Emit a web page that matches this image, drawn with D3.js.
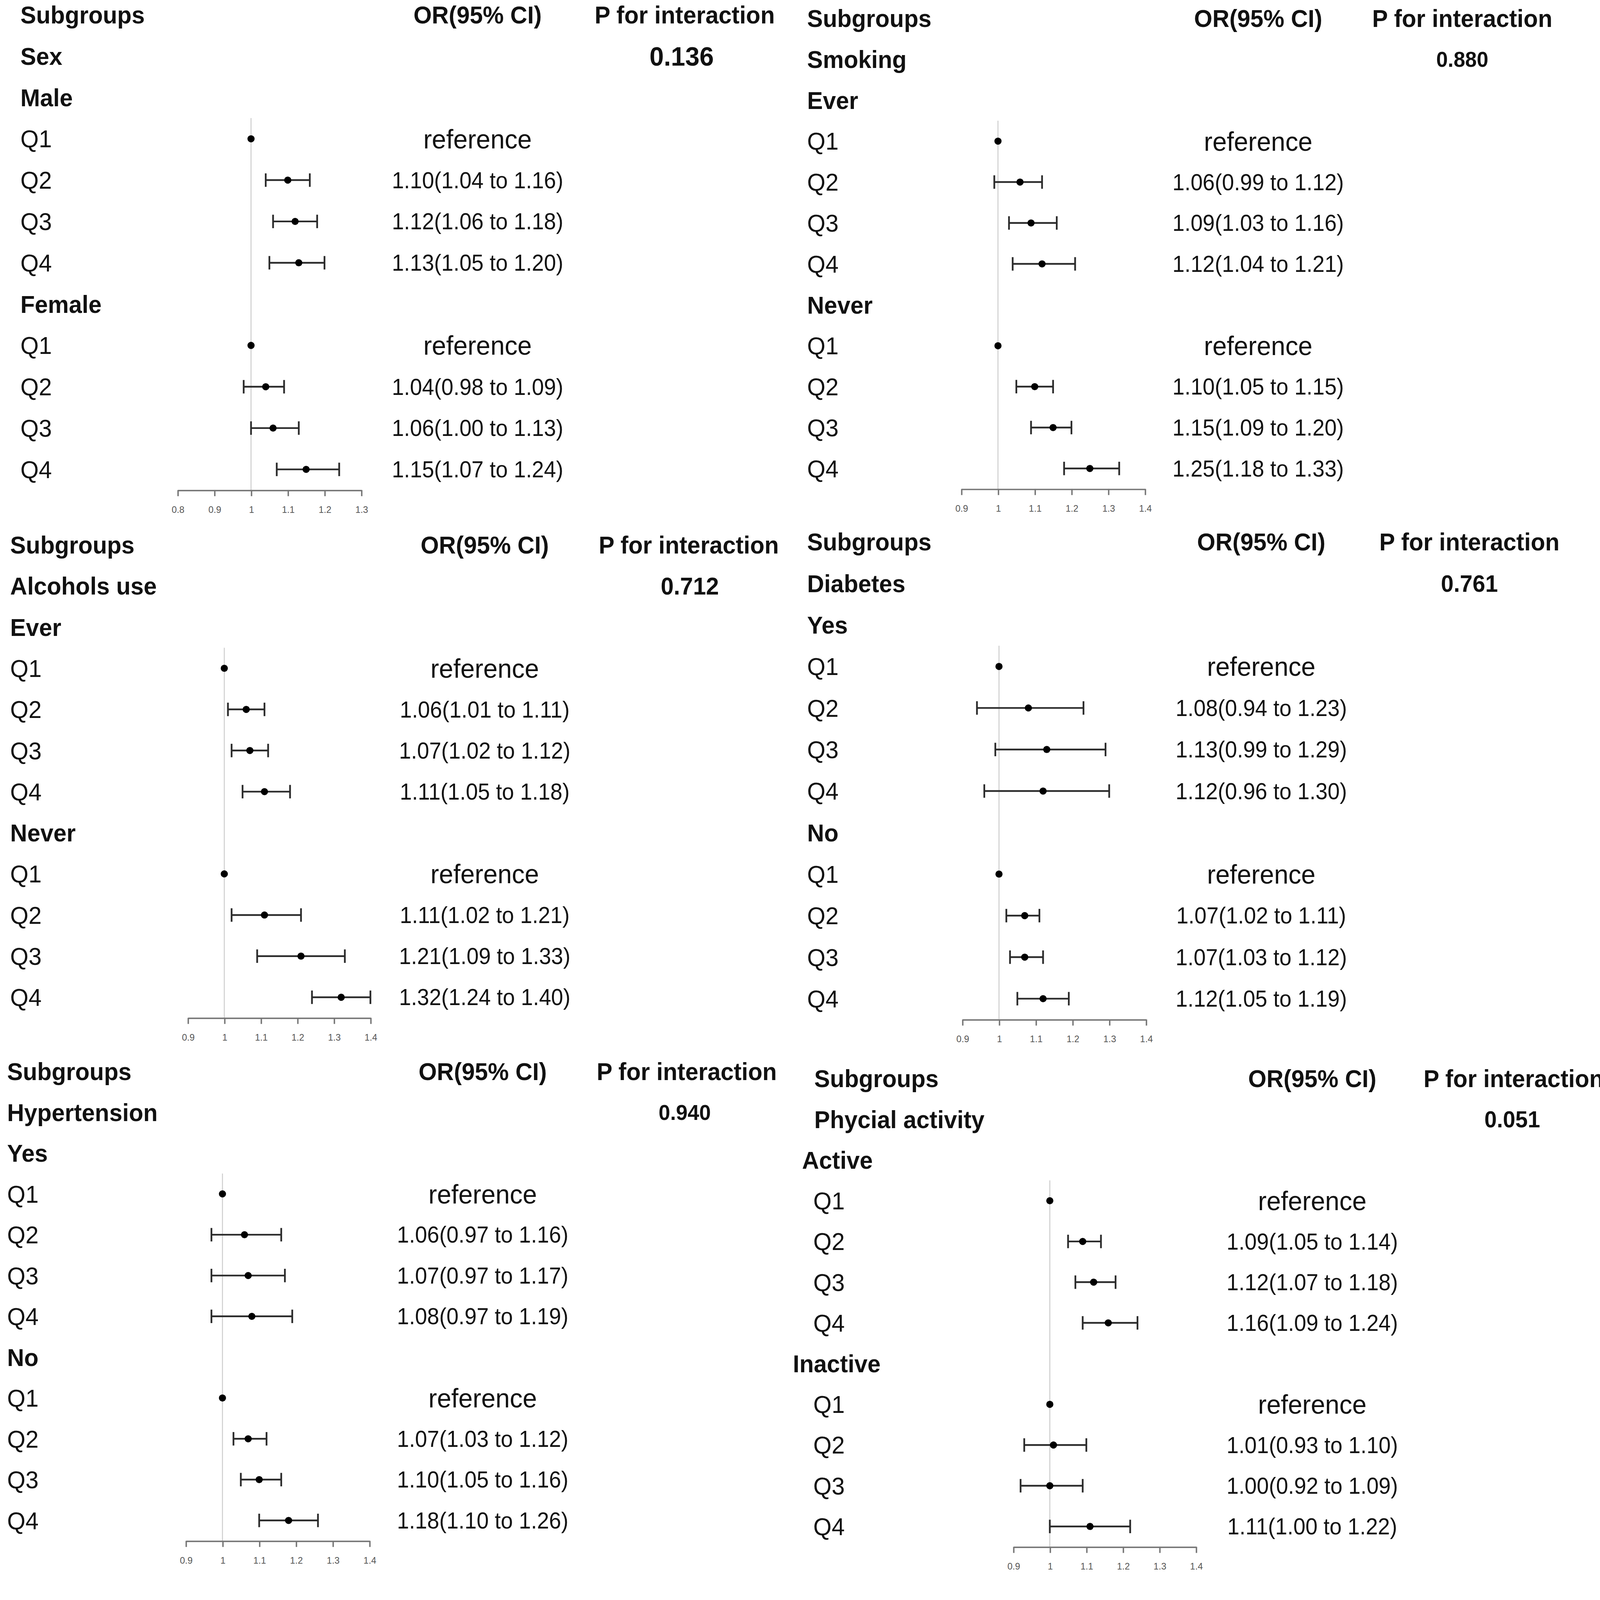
<!DOCTYPE html>
<html lang="en">
<head>
    <meta charset="UTF-8">
    <title>Subgroup forest plots</title>
    <script src="https://d3js.org/d3.v7.min.js"></script>
    <style>
        html, body { margin: 0; padding: 0; background: #fff; }
        svg { display: block; font-family: "Liberation Sans", Arial, Helvetica, sans-serif; }
        .ref-line { stroke: #cfcfcf; stroke-width: 1; }
        .ci { stroke: #2b2b2b; stroke-width: 1.7; fill: none; }
        .dot { fill: #000; }
        .axis path, .axis line { stroke: #777; stroke-width: 1.4; }
        .axis text { font-size: 9px; fill: #555; font-family: "Liberation Sans", Arial, sans-serif; }
    </style>
</head>
<body>
    <svg id="chart"></svg>
    <script>
        // ---- data ----
        const headerLabels = ["Subgroups", "OR(95% CI)", "P for interaction"];
        const variables = ["Sex", "Smoking", "Alcohols use", "Diabetes", "Hypertension", "Phycial activity"];
        const pInteraction = ["0.136", "0.880", "0.712", "0.761", "0.940", "0.051"];
        const subgroupNames = [
            ["Male", "Female"],
            ["Ever", "Never"],
            ["Ever", "Never"],
            ["Yes", "No"],
            ["Yes", "No"],
            ["Active", "Inactive"]
        ];
        const quartiles = ["Q1", "Q2", "Q3", "Q4"];

        // OR estimates per panel -> subgroup -> quartile (Q1 is the reference)
        const orEstimate = [
            [[1, 1.10, 1.12, 1.13], [1, 1.04, 1.06, 1.15]],
            [[1, 1.06, 1.09, 1.12], [1, 1.10, 1.15, 1.25]],
            [[1, 1.06, 1.07, 1.11], [1, 1.11, 1.21, 1.32]],
            [[1, 1.08, 1.13, 1.12], [1, 1.07, 1.07, 1.12]],
            [[1, 1.06, 1.07, 1.08], [1, 1.07, 1.10, 1.18]],
            [[1, 1.09, 1.12, 1.16], [1, 1.01, 1.00, 1.11]]
        ];
        const orLower = [
            [[null, 1.04, 1.06, 1.05], [null, 0.98, 1.00, 1.07]],
            [[null, 0.99, 1.03, 1.04], [null, 1.05, 1.09, 1.18]],
            [[null, 1.01, 1.02, 1.05], [null, 1.02, 1.09, 1.24]],
            [[null, 0.94, 0.99, 0.96], [null, 1.02, 1.03, 1.05]],
            [[null, 0.97, 0.97, 0.97], [null, 1.03, 1.05, 1.10]],
            [[null, 1.05, 1.07, 1.09], [null, 0.93, 0.92, 1.00]]
        ];
        const orUpper = [
            [[null, 1.16, 1.18, 1.20], [null, 1.09, 1.13, 1.24]],
            [[null, 1.12, 1.16, 1.21], [null, 1.15, 1.20, 1.33]],
            [[null, 1.11, 1.12, 1.18], [null, 1.21, 1.33, 1.40]],
            [[null, 1.23, 1.29, 1.30], [null, 1.11, 1.12, 1.19]],
            [[null, 1.16, 1.17, 1.19], [null, 1.12, 1.16, 1.26]],
            [[null, 1.14, 1.18, 1.24], [null, 1.10, 1.09, 1.22]]
        ];
        const axisTicks = [
            [0.8, 0.9, 1, 1.1, 1.2, 1.3],
            [0.9, 1, 1.1, 1.2, 1.3, 1.4],
            [0.9, 1, 1.1, 1.2, 1.3, 1.4],
            [0.9, 1, 1.1, 1.2, 1.3, 1.4],
            [0.9, 1, 1.1, 1.2, 1.3, 1.4],
            [0.9, 1, 1.1, 1.2, 1.3, 1.4]
        ];

        // ---- layout (drawing units, scaled up to the page by the viewBox) ----
        const width = 4211, height = 4144;
        const vbW = 1612, vbH = vbW * height / width;
        const panels = [
            { textX: 20,  groupX: [20, 20],   top: 14.5, step: 40.5, x0: 174, x1: 354,  orX: 468,  pX: 671,  pAnchor: "middle", pValX: 668,  pSize: 26.5 },
            { textX: 791, groupX: [791, 791], top: 18,   step: 40.1, x0: 942, x1: 1122, orX: 1233, pX: 1433, pAnchor: "middle", pValX: 1433, pSize: 21.5 },
            { textX: 10,  groupX: [10, 10],   top: 534,  step: 40.3, x0: 184, x1: 363,  orX: 475,  pX: 675,  pAnchor: "middle", pValX: 676,  pSize: 24 },
            { textX: 791, groupX: [791, 791], top: 531,  step: 40.7, x0: 943, x1: 1123, orX: 1236, pX: 1440, pAnchor: "middle", pValX: 1440, pSize: 23.5 },
            { textX: 7,   groupX: [7, 7],     top: 1050, step: 40,   x0: 182, x1: 362,  orX: 473,  pX: 673,  pAnchor: "middle", pValX: 671,  pSize: 21.5 },
            { textX: 797, groupX: [786, 777], top: 1057, step: 39.9, x0: 993, x1: 1172, orX: 1286, pX: 1395, pAnchor: "start",  pValX: 1482, pSize: 23 }
        ];

        const svg = d3.select("#chart")
            .attr("width", width)
            .attr("height", height)
            .attr("viewBox", `0 0 ${vbW} ${vbH}`);

        svg.append("rect").attr("width", vbW).attr("height", vbH).attr("fill", "#fff");

        const fmt = d3.format(".2f");

        // text squeezed slightly, like the original figure
        function label(g, x, y, str, size, weight, anchor, sx = 0.95) {
            return g.append("text")
                .attr("transform", `translate(${x},${y}) scale(${sx},1)`)
                .attr("dy", "0.35em")
                .attr("text-anchor", anchor)
                .attr("font-size", size)
                .attr("font-weight", weight)
                .attr("fill", "#111")
                .text(str);
        }

        panels.forEach((p, i) => {
            const g = svg.append("g").attr("class", "panel");
            const ticks = axisTicks[i];
            const x = d3.scaleLinear().domain([ticks[0], ticks[ticks.length - 1]]).range([p.x0, p.x1]);
            const y = d3.scaleLinear().domain([0, 11]).range([p.top, p.top + 11 * p.step]);
            const axisY = y(11.5);

            // header
            label(g, p.textX + (i === 5 ? 1 : 0), y(0), headerLabels[0], 24.3, "bold", "start");
            label(g, p.orX, y(0), headerLabels[1], 24.3, "bold", "middle");
            label(g, p.pX, y(0), headerLabels[2], 24.3, "bold", p.pAnchor);
            label(g, p.textX + (i === 5 ? 1 : 0), y(1), variables[i], 24.3, "bold", "start");
            label(g, p.pValX, y(1), pInteraction[i], p.pSize, "bold", "middle");

            // reference line at OR = 1
            g.append("line")
                .attr("class", "ref-line")
                .attr("x1", x(1)).attr("x2", x(1))
                .attr("y1", y(2.5)).attr("y2", axisY);

            subgroupNames[i].forEach((name, s) => {
                const base = 2 + s * 5;
                label(g, p.groupX[s], y(base), name, 24.3, "bold", "start");

                quartiles.forEach((q, k) => {
                    const row = y(base + 1 + k);
                    const est = orEstimate[i][s][k];
                    const lo = orLower[i][s][k];
                    const hi = orUpper[i][s][k];

                    label(g, p.textX, row, q, 24.3, "normal", "start");

                    if (lo === null) {
                        label(g, p.orX, row, "reference", 26.5, "normal", "middle");
                    } else {
                        label(g, p.orX, row, `${fmt(est)}(${fmt(lo)} to ${fmt(hi)})`, 22.4, "normal", "middle");
                        g.append("line").attr("class", "ci")
                            .attr("x1", x(lo)).attr("x2", x(hi))
                            .attr("y1", row).attr("y2", row);
                        [lo, hi].forEach(v => {
                            g.append("line").attr("class", "ci")
                                .attr("x1", x(v)).attr("x2", x(v))
                                .attr("y1", row - 6.6).attr("y2", row + 6.6);
                        });
                    }

                    g.append("circle")
                        .attr("class", "dot")
                        .attr("cx", x(est))
                        .attr("cy", row)
                        .attr("r", 3.5);
                });
            });

            // x axis
            g.append("g")
                .attr("class", "axis")
                .attr("transform", `translate(0,${axisY})`)
                .call(d3.axisBottom(x)
                    .tickValues(ticks)
                    .tickSize(6)
                    .tickSizeOuter(0)
                    .tickPadding(10)
                    .tickFormat(d => String(d)));
        });
    </script>
</body>
</html>
